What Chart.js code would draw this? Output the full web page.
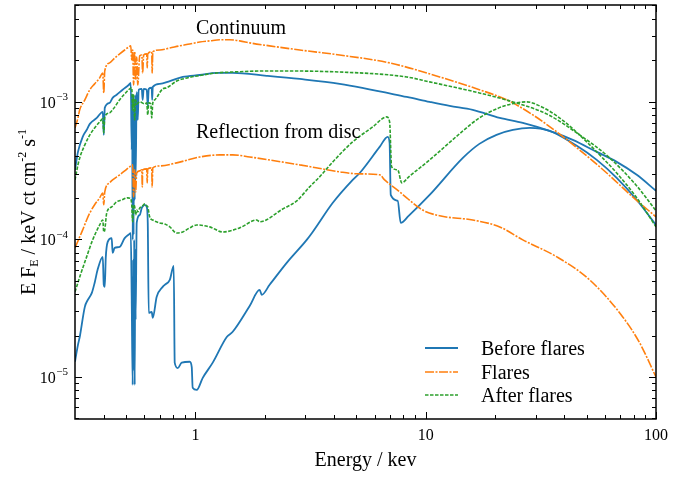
<!DOCTYPE html>
<html><head><meta charset="utf-8">
<script src="https://cdn.jsdelivr.net/npm/chart.js@4.4.1/dist/chart.umd.min.js"></script>
<style>html,body{margin:0;padding:0;background:#fff}canvas{display:block}</style>
</head><body>
<canvas id="c" width="680" height="477" style="width:680px;height:477px"></canvas>
<script>
// ---- Data (energy in keV, E*F_E in keV ct cm^-2 s^-1) ----
// Before flares: continuum
const bcE = [0.300,0.309,0.324,0.337,0.348,0.373,0.396,0.400,0.404,0.424,0.437,0.455,0.483,0.513,0.524,0.529,0.531,0.534,0.537,0.539,0.542,0.545,0.548,0.550,0.556,0.562,0.567,0.585,0.590,0.596,0.6145,0.621,0.627,0.646,0.649,0.653,0.700,0.774,0.881,1.044,1.237,1.452,2.040,2.84,4.23,8.27,10.4,12.7,16.0,20.96,26.4,34.5,43.5,55.3,67.5,82.5,100];
const bcF = [3.19e-4,4.31e-4,5.55e-4,6.22e-4,6.89e-4,7.61e-4,8.42e-4,5.73e-4,9.0e-4,9.78e-4,1.064e-3,1.12e-3,1.22e-3,1.32e-3,1.367e-3,4.45e-4,1.12e-3,9.9e-5,8.71e-4,1.08e-4,1.03e-3,1.93e-4,1.12e-3,2.70e-4,1.176e-3,7.36e-4,1.22e-3,1.236e-3,1.03e-3,1.236e-3,1.22e-3,9.30e-4,1.236e-3,1.26e-3,1.03e-3,1.28e-3,1.345e-3,1.41e-3,1.51e-3,1.56e-3,1.615e-3,1.615e-3,1.54e-3,1.46e-3,1.345e-3,1.081e-3,9.95e-4,9.30e-4,8.71e-4,7.61e-4,7.0e-4,6.12e-4,5.27e-4,4.31e-4,3.65e-4,2.94e-4,2.25e-4];
// Before flares: reflection
const brE = [0.300,0.302,0.309,0.3145,0.331,0.341,0.355,0.365,0.376,0.396,0.400,0.404,0.408,0.416,0.433,0.437,0.446,0.469,0.493,0.513,0.524,0.529,0.534,0.537,0.539,0.542,0.545,0.548,0.550,0.556,0.573,0.585,0.603,0.6145,0.621,0.627,0.646,0.653,0.679,0.721,0.736,0.774,0.805,0.813,0.838,0.872,0.945,0.964,0.973,1.013,1.076,1.189,1.368,1.452,1.72,1.901,1.94,2.10,2.491,3.043,3.23,3.95,4.82,5.17,6.31,6.84,6.97,7.05,7.56,7.79,8.43,10.4,14.5,17.1,20.3,23.9,28.3,34.5,45.3,55.3,67.5,82.5,100];
const brF = [1.29e-5,1.38e-5,1.71e-5,1.95e-5,3.23e-5,3.63e-5,4.08e-5,4.82e-5,6.0e-5,7.45e-5,4.67e-5,4.51e-5,7.33e-5,9.57e-5,1.02e-4,7.96e-5,8.66e-5,8.81e-5,1.02e-4,1.08e-4,1.11e-4,3.63e-5,8.75e-6,7.1e-5,1.125e-5,9.9e-5,8.75e-6,8.4e-5,2.60e-5,1.315e-4,1.50e-4,1.69e-4,1.78e-4,1.72e-4,1.315e-4,2.92e-5,2.97e-5,2.69e-5,3.82e-5,4.51e-5,4.67e-5,5.07e-5,6.41e-5,1.27e-5,1.16e-5,1.27e-5,1.29e-5,1.18e-5,8.34e-6,8.05e-6,9.85e-6,1.27e-5,1.95e-5,2.13e-5,3.28e-5,4.29e-5,3.95e-5,4.67e-5,6.74e-5,9.9e-5,1.13e-4,1.84e-4,2.70e-4,3.03e-4,4.69e-4,5.55e-4,5.01e-4,2.10e-4,1.90e-4,1.315e-4,1.48e-4,2.10e-4,3.90e-4,4.93e-4,5.73e-4,6.22e-4,6.44e-4,6.12e-4,4.77e-4,3.77e-4,2.79e-4,1.93e-4,1.27e-4];
// Flares: continuum
const fcE = [0.300,0.309,0.3145,0.331,0.348,0.365,0.384,0.396,0.400,0.404,0.424,0.446,0.469,0.493,0.513,0.524,0.529,0.534,0.539,0.545,0.550,0.556,0.562,0.573,0.585,0.590,0.596,0.6145,0.6174,0.621,0.646,0.649,0.653,0.700,0.774,0.855,0.945,1.044,1.154,1.275,1.409,1.557,1.72,2.10,2.84,4.23,6.97,11.5,17.1,22.5,29.2,37.1,46.6,61.1,79.2,100];
const fcF = [6.44e-4,7.61e-4,8.71e-4,1.03e-3,1.22e-3,1.345e-3,1.487e-3,1.615e-3,1.156e-3,1.67e-3,1.91e-3,2.07e-3,2.22e-3,2.37e-3,2.49e-3,2.54e-3,2.01e-3,2.37e-3,1.32e-3,2.30e-3,1.44e-3,2.11e-3,1.32e-3,2.15e-3,2.18e-3,1.615e-3,2.18e-3,2.22e-3,1.76e-3,2.22e-3,2.30e-3,1.615e-3,2.30e-3,2.37e-3,2.45e-3,2.54e-3,2.62e-3,2.71e-3,2.76e-3,2.81e-3,2.81e-3,2.76e-3,2.67e-3,2.54e-3,2.37e-3,2.18e-3,1.91e-3,1.51e-3,1.22e-3,1.03e-3,8.0e-4,6.02e-4,4.45e-4,3.03e-4,2.03e-4,1.455e-4];
// Flares: reflection
const frE = [0.300,0.3145,0.324,0.337,0.348,0.365,0.384,0.396,0.400,0.404,0.424,0.437,0.469,0.493,0.518,0.534,0.539,0.545,0.550,0.556,0.573,0.585,0.588,0.590,0.6145,0.6174,0.621,0.646,0.649,0.653,0.700,0.829,1.044,1.275,1.452,1.72,2.84,4.23,5.02,6.31,6.63,6.97,7.71,8.27,9.70,11.5,16.0,20.96,26.4,37.1,51.5,71.7,84.9,100];
const frF = [8.66e-5,1.04e-4,1.17e-4,1.38e-4,1.555e-4,1.78e-4,2.00e-4,2.17e-4,1.78e-4,2.21e-4,2.57e-4,2.70e-4,2.94e-4,3.14e-4,3.36e-4,3.47e-4,2.03e-4,3.19e-4,2.21e-4,3.03e-4,3.14e-4,3.19e-4,2.40e-4,3.19e-4,3.245e-4,2.57e-4,3.245e-4,3.30e-4,2.40e-4,3.30e-4,3.41e-4,3.59e-4,3.96e-4,4.10e-4,4.10e-4,3.96e-4,3.47e-4,3.09e-4,2.99e-4,2.94e-4,2.70e-4,2.52e-4,2.21e-4,2.00e-4,1.63e-4,1.48e-4,1.38e-4,1.23e-4,9.9e-5,7.45e-5,5.07e-5,2.73e-5,1.77e-5,1.0e-5];
// After flares: continuum
const acE = [0.300,0.309,0.3145,0.331,0.348,0.365,0.384,0.396,0.400,0.404,0.424,0.437,0.469,0.493,0.518,0.529,0.534,0.539,0.545,0.550,0.556,0.573,0.603,0.6145,0.621,0.627,0.640,0.646,0.653,0.666,0.721,0.750,0.829,0.881,1.076,1.237,1.452,2.040,4.23,8.27,10.4,17.1,23.9,33.5,46.6,62.9,82.5,100];
const acF = [2.70e-4,3.47e-4,3.90e-4,4.85e-4,5.73e-4,6.44e-4,7.12e-4,7.49e-4,5.93e-4,7.74e-4,8.28e-4,8.71e-4,1.03e-3,1.137e-3,1.236e-3,1.26e-3,8.71e-4,1.12e-3,7.36e-4,1.03e-3,9.62e-4,9.95e-4,9.62e-4,9.78e-4,8.0e-4,9.78e-4,9.62e-4,7.61e-4,9.78e-4,1.03e-3,1.236e-3,1.26e-3,1.41e-3,1.46e-3,1.56e-3,1.615e-3,1.64e-3,1.67e-3,1.64e-3,1.51e-3,1.39e-3,1.156e-3,9.95e-4,8.14e-4,5.73e-4,3.90e-4,2.44e-4,1.61e-4];
// After flares: reflection
const arE = [0.300,0.302,0.3145,0.337,0.358,0.384,0.396,0.400,0.404,0.412,0.433,0.455,0.479,0.508,0.524,0.529,0.534,0.539,0.545,0.550,0.556,0.562,0.573,0.585,0.603,0.6145,0.621,0.633,0.653,0.700,0.736,0.774,0.829,0.881,0.945,1.013,1.154,1.314,1.557,1.845,1.901,2.394,2.754,3.13,3.46,3.95,4.82,5.89,6.77,6.97,7.11,7.56,7.87,8.44,10.4,14.5,17.1,20.3,23.6,27.5,31.9,37.1,43.1,50.0,58.1,67.5,82.5,100];
const arF = [4.15e-5,4.29e-5,5.33e-5,7.45e-5,9.9e-5,1.27e-4,1.38e-4,1.13e-4,1.17e-4,1.555e-4,1.72e-4,1.87e-4,1.93e-4,2.00e-4,1.965e-4,1.78e-4,1.34e-4,1.78e-4,1.72e-4,1.50e-4,1.63e-4,1.58e-4,1.69e-4,1.72e-4,1.81e-4,1.75e-4,1.72e-4,1.455e-4,1.38e-4,1.315e-4,1.29e-4,1.23e-4,1.11e-4,1.13e-4,1.21e-4,1.27e-4,1.23e-4,1.13e-4,1.21e-4,1.38e-4,1.34e-4,1.66e-4,1.90e-4,2.40e-4,2.84e-4,3.65e-4,5.10e-4,6.55e-4,7.74e-4,7.12e-4,3.36e-4,3.19e-4,2.57e-4,2.84e-4,3.77e-4,6.12e-4,7.61e-4,8.85e-4,9.62e-4,9.95e-4,9.15e-4,7.87e-4,6.44e-4,5.10e-4,3.96e-4,3.03e-4,2.00e-4,1.23e-4];

// ---- Labels / ticks ----
const seriesNames = ['Before flares','Flares','After flares'];
const xTickVals = [1,10,100];
const xTickLabels = ['1','10','100'];
const yTickVals = [1e-5,1e-4,1e-3];
const yTickExps = ['\u22125','\u22124','\u22123'];
const annotations = ['Continuum','Reflection from disc'];
const xTitle = 'Energy / kev';

// ---- Styles ----
const COLORS = ['#1f77b4','#ff7f0e','#2ca02c'];
const DASHES = [[], [9,1.5,2,1.5], [3.5,1.5]];
const WIDTHS = [1.8,1.6,1.6];
const FONT = '"Liberation Serif","Times New Roman",serif';

const pts = (E,F) => E.map((e,i)=>({x:e,y:F[i]}));
function ds(label, E, F, k, isCont){
  return {label, data: pts(E,F), borderColor: COLORS[k], borderWidth: WIDTHS[k],
    borderDash: DASHES[k], pointRadius: 0, cubicInterpolationMode: 'monotone', fill: false,
    order: 3-k, _legend: isCont};
}
const datasets = [
  ds(seriesNames[0], bcE, bcF, 0, true),
  ds(seriesNames[0]+' (refl)', brE, brF, 0, false),
  ds(seriesNames[1], fcE, fcF, 1, true),
  ds(seriesNames[1]+' (refl)', frE, frF, 1, false),
  ds(seriesNames[2], acE, acF, 2, true),
  ds(seriesNames[2]+' (refl)', arE, arF, 2, false)
];

function minorVals(lo, hi){
  const out=[];
  for(let d=Math.floor(Math.log10(lo)); d<=Math.ceil(Math.log10(hi)); d++){
    for(let m=2;m<=9;m++){const v=m*Math.pow(10,d); if(v>lo*1.0001 && v<hi*0.9999) out.push(v);}
  }
  return out;
}

const decor = {
  id:'decor',
  afterDatasetsDraw(chart){
    const {ctx, chartArea:a, scales:{x,y}} = chart;
    ctx.save();
    const ln=(x1,y1,x2,y2)=>{ctx.beginPath();ctx.moveTo(x1,y1);ctx.lineTo(x2,y2);ctx.stroke();};
    ctx.strokeStyle='#000'; ctx.lineWidth=1;
    const xt=(v,len)=>{const p=Math.round(x.getPixelForValue(v))+0.5; ln(p,a.bottom,p,a.bottom-len); ln(p,a.top,p,a.top+len);};
    const yt=(v,len)=>{const p=Math.round(y.getPixelForValue(v))+0.5; ln(a.left,p,a.left+len,p); ln(a.right,p,a.right-len,p);};
    xTickVals.forEach(v=>xt(v,7));
    minorVals(x.min,x.max).forEach(v=>xt(v,4));
    yTickVals.forEach(v=>yt(v,7));
    minorVals(y.min,y.max).forEach(v=>yt(v,4));
    ctx.lineWidth=1.5;
    ctx.strokeRect(a.left, a.top, a.right-a.left, a.bottom-a.top);
    ctx.fillStyle='#000';
    ctx.font='16px '+FONT; ctx.textAlign='center'; ctx.textBaseline='alphabetic';
    xTickVals.forEach((v,i)=>ctx.fillText(xTickLabels[i], x.getPixelForValue(v), 440));
    yTickVals.forEach((v,i)=>{
      const p=y.getPixelForValue(v);
      ctx.font='11px '+FONT; const ws=ctx.measureText(yTickExps[i]).width;
      ctx.font='16px '+FONT; const wb=ctx.measureText('10').width;
      const right=68;
      ctx.textAlign='left';
      ctx.fillText('10', right-ws-wb-0.5, p+6);
      ctx.font='11px '+FONT; ctx.fillText(yTickExps[i], right-ws, p-1.5);
    });
    ctx.font='20px '+FONT; ctx.textAlign='center';
    ctx.fillText(xTitle, (a.left+a.right)/2, 466);
    const parts=[['E F',20,0],['E',12,3],[' / keV ct cm',20,0],['-2',12,-9],[' s',20,0],['-1',12,-9]];
    let W=0; parts.forEach(p=>{ctx.font=p[1]+'px '+FONT; p.w=ctx.measureText(p[0]).width; W+=p.w;});
    ctx.save(); ctx.translate(35,(a.top+a.bottom)/2); ctx.rotate(-Math.PI/2);
    ctx.textAlign='left'; let cx=-W/2;
    parts.forEach(p=>{ctx.font=p[1]+'px '+FONT; ctx.fillText(p[0],cx,p[2]); cx+=p.w;});
    ctx.restore();
    ctx.font='20px '+FONT; ctx.textAlign='left';
    ctx.fillText(annotations[0], 196, 34);
    ctx.fillText(annotations[1], 196, 138);
    const legY=[348,372,395];
    chart.data.datasets.filter(d=>d._legend).forEach((d,i)=>{
      ctx.strokeStyle=d.borderColor; ctx.lineWidth=d.borderWidth; ctx.setLineDash(d.borderDash);
      ln(425,legY[i],458,legY[i]);
      ctx.setLineDash([]);
      ctx.fillStyle='#000'; ctx.font='20px '+FONT; ctx.textAlign='left';
      ctx.fillText(seriesNames[i], 481, legY[i]+7);
    });
    ctx.restore();
  }
};

new Chart(document.getElementById('c'), {
  type:'line',
  data:{datasets},
  options:{
    responsive:false, animation:false, devicePixelRatio:1,
    layout:{padding:{left:75,top:5,right:24,bottom:58}},
    scales:{
      x:{type:'logarithmic', min:0.3, max:100, display:false},
      y:{type:'logarithmic', min:4.95e-6, max:5.03e-3, display:false}
    },
    plugins:{legend:{display:false}, tooltip:{enabled:false}},
    elements:{point:{radius:0}}
  },
  plugins:[decor]
});
</script>
</body></html>
